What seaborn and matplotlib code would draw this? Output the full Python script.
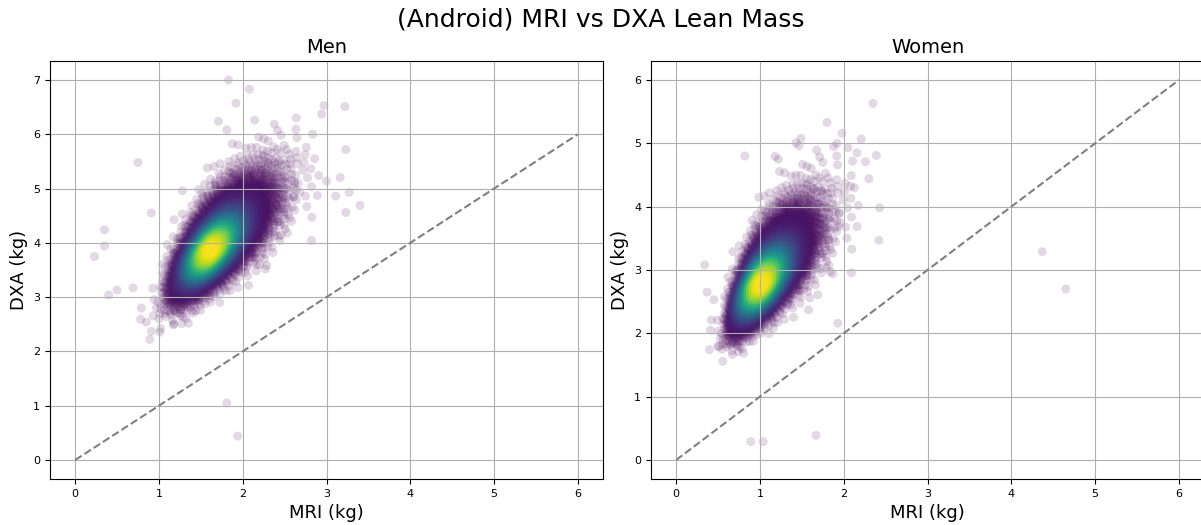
import numpy as np
import pandas as pd
import matplotlib
matplotlib.use("Agg")
import matplotlib.pyplot as plt
import seaborn as sns

# ---------------- data ----------------
title = "(Android) MRI vs DXA Lean Mass"
panel_titles = ["Men", "Women"]
x_label = "MRI (kg)"
y_label = "DXA (kg)"
x_ticks = [0, 1, 2, 3, 4, 5, 6]
identity_line = [0, 6]

# Shape of each cloud (log-normal, two parts:
# a dense core and a wider sparse halo):
# median MRI, median DXA, log-sd MRI, log-sd DXA, correlation, count
men_core = dict(mri=1.65, dxa=3.93, sd_mri=0.12, sd_dxa=0.09, corr=0.72, n=12000)
men_halo = dict(mri=1.68, dxa=3.98, sd_mri=0.17, sd_dxa=0.135, corr=0.70, n=6000)
women_core = dict(mri=1.05, dxa=2.85, sd_mri=0.16, sd_dxa=0.11, corr=0.72, n=12000)
women_halo = dict(mri=1.07, dxa=2.90, sd_mri=0.22, sd_dxa=0.16, corr=0.70, n=6000)

# Individual sparse / outlying points
men_out_mri = [1.83, 2.08, 1.92, 1.71, 2.97, 3.22, 0.75, 0.35, 0.35, 0.23, 3.40, 3.27,
               3.23, 3.23, 3.11, 3.00, 0.91, 1.28, 2.76, 1.81, 1.94, 0.40, 0.50, 0.69,
               0.79, 0.85, 0.91, 0.89, 1.02, 1.18, 1.27, 2.27, 2.20, 1.41]
men_out_dxa = [7.00, 6.83, 6.57, 6.24, 6.53, 6.51, 5.48, 4.24, 3.94, 3.75, 4.69, 4.93,
               4.56, 5.72, 4.86, 5.14, 4.55, 4.96, 5.76, 1.05, 0.44, 3.04, 3.13, 3.17,
               2.80, 2.54, 2.37, 2.22, 2.42, 2.51, 2.51, 3.52, 3.60, 2.71]
women_out_mri = [2.35, 1.80, 1.98, 0.82, 1.22, 2.39, 2.26, 2.16, 2.05, 2.30, 2.42, 4.37,
                 1.49, 1.43, 1.88, 2.09, 2.08, 4.65, 0.89, 1.04, 1.67, 1.93, 1.58, 1.69,
                 0.34, 0.37, 0.45, 0.42, 0.41, 0.51, 0.74, 1.16, 1.84, 1.87]
women_out_dxa = [5.63, 5.33, 5.16, 4.80, 4.75, 4.81, 4.71, 4.85, 4.93, 4.44, 3.47, 3.29,
                 5.08, 5.01, 4.95, 4.49, 4.32, 2.70, 0.29, 0.29, 0.39, 2.16, 2.37, 2.61,
                 3.08, 2.65, 2.53, 2.21, 2.05, 1.79, 1.71, 2.08, 2.97, 2.94]


def cloud_points(p, offset=0.5):
    # deterministic low-discrepancy lattice (R2 sequence) mapped to a
    # correlated log-normal cloud with the parameters read above
    n = p["n"]
    g = 1.32471795724474602596
    i = np.arange(1, n + 1)
    u = np.mod(offset + i / g, 1.0)
    v = np.mod(offset + i / g ** 2, 1.0)
    u = np.clip(u, 1e-6, 1.0)
    r = np.sqrt(-2.0 * np.log(u))
    z1 = r * np.cos(2 * np.pi * v)
    z2 = r * np.sin(2 * np.pi * v)
    zy = p["corr"] * z1 + np.sqrt(1 - p["corr"] ** 2) * z2
    x = p["mri"] * np.exp(p["sd_mri"] * z1)
    y = p["dxa"] * np.exp(p["sd_dxa"] * zy)
    return x, y


def density(x, y, bins=140, sigma=2.0):
    xr = (x.min() - 0.1, x.max() + 0.1)
    yr = (y.min() - 0.1, y.max() + 0.1)
    H, xe, ye = np.histogram2d(x, y, bins=bins, range=[xr, yr])
    k = np.arange(-int(4 * sigma), int(4 * sigma) + 1)
    ker = np.exp(-0.5 * (k / sigma) ** 2)
    ker /= ker.sum()
    H = np.apply_along_axis(lambda m: np.convolve(m, ker, mode="same"), 0, H)
    H = np.apply_along_axis(lambda m: np.convolve(m, ker, mode="same"), 1, H)
    ix = np.clip(np.searchsorted(xe, x) - 1, 0, bins - 1)
    iy = np.clip(np.searchsorted(ye, y) - 1, 0, bins - 1)
    return H[ix, iy]


def build(core, halo, out_x, out_y):
    cx, cy = cloud_points(core, 0.5)
    hx, hy = cloud_points(halo, 0.123)
    x = np.concatenate([cx, hx, np.array(out_x)])
    y = np.concatenate([cy, hy, np.array(out_y)])
    d = density(x, y)
    df = pd.DataFrame({"MRI": x, "DXA": y, "density": d}).sort_values("density")
    return df


frames = [build(men_core, men_halo, men_out_mri, men_out_dxa),
          build(women_core, women_halo, women_out_mri, women_out_dxa)]

# ---------------- figure ----------------
plt.rcParams["font.family"] = ["DejaVu Sans"]
fig = plt.figure(figsize=(12.01, 5.25), dpi=100)
axes = [fig.add_axes([50 / 1201, 46 / 525, 553 / 1201, 418 / 525]),
        fig.add_axes([651 / 1201, 46 / 525, 553 / 1201, 418 / 525])]

for ax, df, ttl in zip(axes, frames, panel_titles):
    sns.scatterplot(data=df, x="MRI", y="DXA", hue="density", palette="viridis",
                    hue_norm=(0, df["density"].max()), alpha=0.15, s=42,
                    linewidth=0, legend=False, ax=ax, rasterized=True)
    ax.plot(identity_line, identity_line, linestyle="--", color="gray")
    ax.set_title(ttl, fontsize=14)
    ax.set_xlabel(x_label, fontsize=13)
    ax.set_ylabel(y_label, fontsize=13)
    ax.set_xticks(x_ticks)
    ax.tick_params(labelsize=8)
    ax.grid(True)

fig.suptitle(title, fontsize=18, y=1 - 20 / 525, va="center")
fig.savefig("out.png", dpi=100)
